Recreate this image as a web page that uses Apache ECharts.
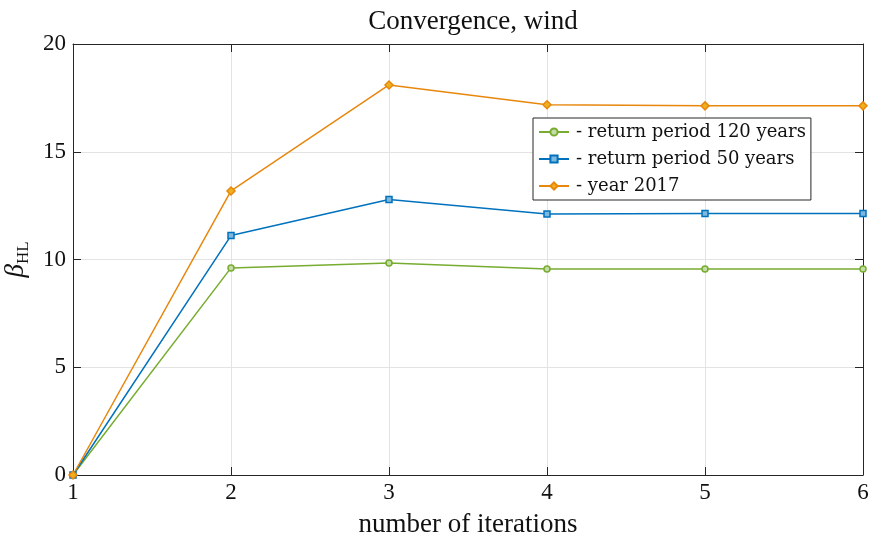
<!DOCTYPE html>
<html><head><meta charset="utf-8">
<script src="https://cdn.jsdelivr.net/npm/echarts@6/dist/echarts.min.js"></script>
<style>html,body{margin:0;padding:0;background:#fff}#c{width:869px;height:540px}</style>
</head><body><div id="c"></div>
<script>
const iterations = [1, 2, 3, 4, 5, 6];
const seriesNames = ['- return period 120 years', '- return period 50 years', '- year 2017'];
const rp120 = [0, 9.61, 9.84, 9.56, 9.56, 9.56];
const rp50 = [0, 11.11, 12.78, 12.11, 12.14, 12.14];
const y2017 = [0, 13.18, 18.10, 17.18, 17.13, 17.13];
const yTicks = [0, 5, 10, 15, 20];

const font = 'Liberation Serif';
const pairs = v => iterations.map((x, i) => [x, v[i]]);
const chart = echarts.init(document.getElementById('c'));
const axisLineStyle = {color: '#262626', width: 1};
chart.setOption({
  animation: false,
  title: {text: 'Convergence, wind', left: 468, textAlign: 'center', top: 3,
    textStyle: {fontFamily: font, fontWeight: 'normal', fontSize: 27, color: '#111'}},
  grid: {left: 73, right: 6, top: 44, bottom: 65, containLabel: false, outerBoundsMode: 'none'},
  legend: {orient: 'vertical', left: 533, top: 118, backgroundColor: '#fff',
    borderColor: '#262626', borderWidth: 1, padding: [5, 5, 5, 5], itemGap: 9,
    itemWidth: 30, itemHeight: 9, data: seriesNames,
    textStyle: {fontFamily: 'DejaVu Serif', fontSize: 18, color: '#111', padding: [0,0,0,2]}},
  xAxis: [{type: 'value', min: 1, max: 6, interval: 1, name: 'number of iterations',
    nameLocation: 'middle', nameGap: 36,
    nameTextStyle: {fontFamily: font, fontSize: 27, color: '#111'},
    axisLine: {lineStyle: axisLineStyle}, axisTick: {inside: true, length: 8, lineStyle: axisLineStyle},
    axisLabel: {fontFamily: font, fontSize: 23, color: '#111', margin: 6},
    splitLine: {show: true, lineStyle: {color: '#e3e3e3'}}},
   {type: 'value', position: 'top', min: 1, max: 6, interval: 1,
    axisLine: {show: true, onZero: false, lineStyle: axisLineStyle}, axisTick: {inside: true, length: 8, lineStyle: axisLineStyle},
    axisLabel: {show: false}, splitLine: {show: false}}],
  yAxis: [{type: 'value', min: 0, max: 20, interval: 5,
    name: '{b|β}{s|HL}', nameLocation: 'middle', nameRotate: 90, nameGap: 38,
    nameTextStyle: {rich: {
      b: {fontFamily: font, fontStyle: 'italic', fontSize: 27, color: '#111', lineHeight: 32, verticalAlign: 'middle'},
      s: {fontFamily: font, fontSize: 17, color: '#111', verticalAlign: 'bottom', lineHeight: 32}}},
    axisLine: {show: true, lineStyle: axisLineStyle}, axisTick: {show: true, inside: true, length: 8, lineStyle: axisLineStyle},
    axisLabel: {fontFamily: font, fontSize: 23, color: '#111', margin: 7, formatter: v => yTicks.includes(v) ? String(v) : ''},
    splitLine: {show: true, lineStyle: {color: '#e3e3e3'}}},
   {type: 'value', position: 'right', min: 0, max: 20, interval: 5,
    axisLine: {show: true, lineStyle: axisLineStyle}, axisTick: {show: true, inside: true, length: 8, lineStyle: axisLineStyle},
    axisLabel: {show: false}, splitLine: {show: false}}],
  series: [
    {name: seriesNames[0], type: 'line', data: pairs(rp120), symbol: 'circle', symbolSize: 6,
      lineStyle: {color: '#77AC30', width: 1.5}, itemStyle: {color: '#C5DCA8', borderColor: '#77AC30', borderWidth: 1.5}},
    {name: seriesNames[1], type: 'line', data: pairs(rp50), symbol: 'rect', symbolSize: 6,
      lineStyle: {color: '#0072BD', width: 1.5}, itemStyle: {color: '#7FB8DE', borderColor: '#0072BD', borderWidth: 1.5}},
    {name: seriesNames[2], type: 'line', data: pairs(y2017), symbol: 'diamond', symbolSize: 8,
      lineStyle: {color: '#E8870C', width: 1.5}, itemStyle: {color: '#EDB120', borderColor: '#E8870C', borderWidth: 1.5}}
  ]
});
</script></body></html>
